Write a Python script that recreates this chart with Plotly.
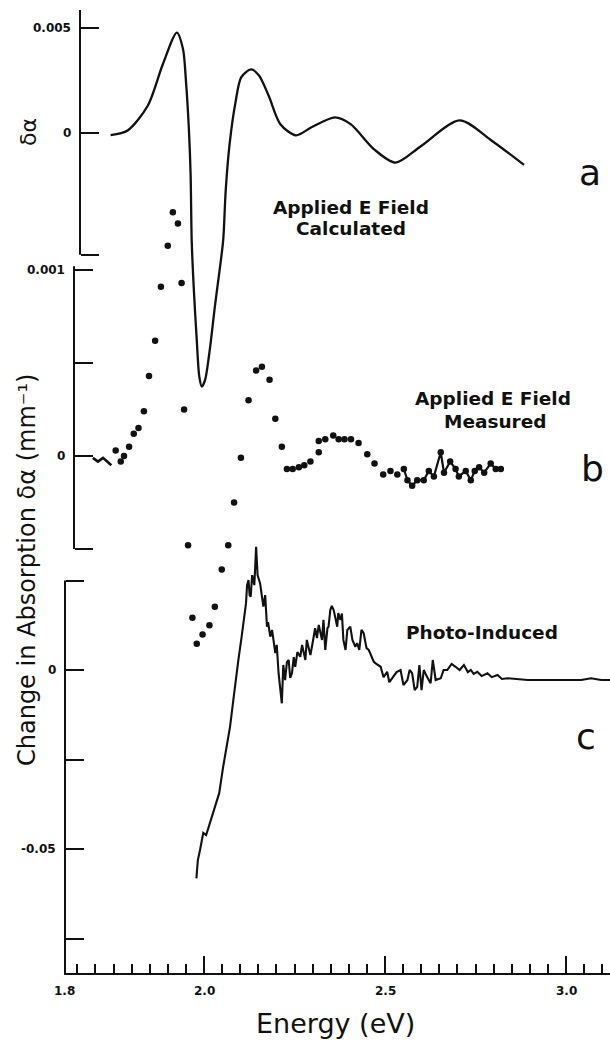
import plotly.graph_objects as go

# ---- (a) calculated electroabsorption spectrum -------------------------------
calc_E = [1.742, 1.789, 1.845, 1.886, 1.925, 1.942, 1.950, 1.958, 1.963, 1.966,
          1.972, 1.980, 1.987, 1.994, 2.003, 2.017, 2.030, 2.042, 2.053, 2.060,
          2.071, 2.087, 2.103, 2.130, 2.152, 2.179, 2.211, 2.254, 2.297, 2.362,
          2.405, 2.470, 2.529, 2.599, 2.706, 2.792, 2.884]
calc_v = [-0.0001, 0.00012, 0.00131, 0.00326, 0.00478, 0.0040, 0.00251, 0.00027, -0.00197, -0.0051,
          -0.00748, -0.00986, -0.0116, -0.01208, -0.01176, -0.01018, -0.00827, -0.00668, -0.0051, -0.00272,
          -0.00048, 0.00146, 0.00266, 0.00303, 0.00274, 0.00176, 0.00042, -0.00011, 0.00027, 0.00074,
          0.00042, -0.00078, -0.00141, -0.00063, 0.0006, -0.00033, -0.00152]

# ---- (b) measured electroabsorption spectrum ---------------------------------
meas_E = [1.693, 1.707, 1.721, 1.744, 1.756, 1.770, 1.779, 1.793, 1.806, 1.819,
          1.834, 1.848, 1.865, 1.881, 1.900, 1.914, 1.928, 1.938, 1.945, 1.956,
          1.968, 1.980, 1.996, 2.015, 2.030, 2.049, 2.067, 2.083, 2.102, 2.123,
          2.144, 2.160, 2.181, 2.197, 2.215, 2.229, 2.245, 2.262, 2.277, 2.294,
          2.317, 2.317, 2.335, 2.357, 2.372, 2.388, 2.406, 2.427, 2.451, 2.471,
          2.495, 2.515, 2.534, 2.552, 2.562, 2.575, 2.589, 2.607, 2.621, 2.635,
          2.654, 2.663, 2.680, 2.695, 2.704, 2.723, 2.737, 2.748, 2.760, 2.774,
          2.792, 2.806, 2.820]
meas_v = [-0.00001, -0.00003, -0.00001, -0.00005, 0.00003, -0.00003, 0.0, 0.00005, 0.00012, 0.00015,
          0.00024, 0.00043, 0.00062, 0.00091, 0.00113, 0.00131, 0.00125, 0.00093, 0.00025, -0.00048,
          -0.00087, -0.00101, -0.00096, -0.00091, -0.00081, -0.00061, -0.00048, -0.00025, -0.00001, 0.00030,
          0.00046, 0.00048, 0.00041, 0.00020, 0.00005, -0.00007, -0.00007, -0.00006, -0.00005, -0.00003,
          0.00008, 0.00002, 0.00009, 0.00011, 0.00009, 0.00009, 0.00009, 0.00007, 0.00001, -0.00004,
          -0.00010, -0.00008, -0.00010, -0.00007, -0.00013, -0.00016, -0.00013, -0.00013, -0.00008, -0.00011,
          0.00002, -0.00009, -0.00003, -0.00007, -0.00011, -0.00008, -0.00013, -0.00008, -0.00006, -0.00009,
          -0.00004, -0.00007, -0.00007]
LEFT_RUN = 4      # densely sampled start, drawn as a joined trace
RIGHT_RUN = 53    # densely sampled tail, drawn as a joined trace

# ---- (c) photo-induced absorption spectrum -----------------------------------
photo_E = [1.979, 1.983, 1.989, 1.998, 2.006, 2.017, 2.026, 2.033, 2.042, 2.053,
           2.063, 2.072, 2.081, 2.089, 2.095, 2.104, 2.111, 2.116, 2.119, 2.123,
           2.126, 2.129, 2.133, 2.139, 2.141, 2.144, 2.148, 2.155, 2.164, 2.169,
           2.174, 2.177, 2.183, 2.188, 2.197, 2.201, 2.206, 2.211, 2.215, 2.219,
           2.224, 2.229, 2.234, 2.238, 2.243, 2.248, 2.252, 2.258, 2.266, 2.271,
           2.280, 2.284, 2.289, 2.294, 2.303, 2.307, 2.312, 2.317, 2.326, 2.330,
           2.335, 2.341, 2.344, 2.349, 2.353, 2.358, 2.363, 2.368, 2.371, 2.377,
           2.381, 2.385, 2.391, 2.396, 2.404, 2.410, 2.418, 2.423, 2.429, 2.435,
           2.441, 2.449, 2.455, 2.463, 2.469, 2.476, 2.488, 2.496, 2.506, 2.512,
           2.524, 2.532, 2.543, 2.551, 2.562, 2.568, 2.575, 2.582, 2.589, 2.595,
           2.601, 2.607, 2.615, 2.626, 2.632, 2.640, 2.654, 2.662, 2.672, 2.684,
           2.695, 2.706, 2.718, 2.729, 2.737, 2.745, 2.755, 2.767, 2.783, 2.795,
           2.811, 2.823, 2.839, 2.866, 2.894, 2.931, 2.968, 3.005, 3.042, 3.069,
           3.097, 3.125]
photo_v = [-0.0582, -0.0531, -0.0503, -0.0455, -0.0461, -0.0427, -0.0399, -0.0377, -0.0344, -0.0270,
           -0.0214, -0.0158, -0.0084, -0.0028, 0.0028, 0.0093, 0.0140, 0.0186, 0.0237, 0.0251,
           0.0209, 0.0205, 0.0265, 0.0237, 0.0279, 0.0344, 0.0265, 0.0242, 0.0177, 0.0209,
           0.0121, 0.0134, 0.0093, 0.0112, 0.0047, 0.0070, -0.0009, -0.0056, -0.0093, 0.0014,
           -0.0028, 0.0022, 0.0028, -0.0022, -0.0009, 0.0036, 0.0009, 0.0050, 0.0037, 0.0070,
           0.0028, 0.0084, 0.0065, 0.0042, 0.0093, 0.0117, 0.0089, 0.0126, 0.0084, 0.0140,
           0.0056, 0.0117, 0.0121, 0.0168, 0.0179, 0.0168, 0.0145, 0.0121, 0.0159, 0.0140,
           0.0158, 0.0084, 0.0056, 0.0112, 0.0121, 0.0084, 0.0065, 0.0075, 0.0056, 0.0112,
           0.0103, 0.0061, 0.0056, 0.0034, 0.0023, 0.0017, 0.0009, -0.0020, -0.0005, -0.0034,
           -0.0019, -0.0006, 0.0000, -0.0042, -0.0028, 0.0000, -0.0009, -0.0056, -0.0047, 0.0014,
           -0.0056, 0.0000, -0.0017, -0.0037, 0.0028, -0.0028, -0.0023, 0.0000, 0.0000, 0.0017,
           0.0009, 0.0000, 0.0014, -0.0006, 0.0000, -0.0011, -0.0005, -0.0017, -0.0009, -0.0020,
           -0.0014, -0.0025, -0.0023, -0.0026, -0.0028, -0.0028, -0.0028, -0.0026, -0.0028, -0.0023,
           -0.0028, -0.0028]

assert len(calc_E) == len(calc_v)
assert len(meas_E) == len(meas_v)
assert len(photo_E) == len(photo_v)

# ---- ticks and tick labels -----------------------------------------------------
x_major = [2.0, 2.5, 3.0]
x_labels = ["1.8", "2.0", "2.5", "3.0"]
a_ticks = [0.005, 0.0, -0.0058]
a_labels = {0.005: "0.005", 0.0: "0"}
b_ticks = [0.001, 0.0005, 0.0, -0.0005]
b_labels = {0.001: "0.001", 0.0: "0"}
c_ticks = [0.025, 0.0, -0.025, -0.05, -0.075]
c_labels = {0.0: "0", -0.05: "-0.05"}

# ---- page geometry -------------------------------------------------------------
W, H = 610, 1046
ML, MR, MT, MB = 64, 0, 0, 73
PW, PH = W - ML - MR, H - MT - MB
PX_PER_EV = 362.0
E_AT_2 = 204  # page x of 2.0 eV
E_LO = 2.0 - (E_AT_2 - ML) / PX_PER_EV
E_HI = 2.0 + (W - MR - E_AT_2) / PX_PER_EV

# fine ticks every 0.05 eV along the energy axis
x_fine = [round(1.65 + 0.05 * i, 2) for i in range(30)]


def xp(px):
    return (px - ML) / PW


def yp(py):
    return 1 - (py - MT) / PH


def yrange(zero_px, px_per_unit):
    return [-(MT + PH - zero_px) / px_per_unit, (zero_px - MT) / px_per_unit]


RA = yrange(133, 21000.0)
RB = yrange(456, 186000.0)
RC = yrange(670, 3580.0)

FONT = "DejaVu Sans"
INK = "#111111"

fig = go.Figure()
fig.add_trace(go.Scatter(x=calc_E, y=calc_v, mode="lines", yaxis="y",
                         line=dict(color=INK, width=2.3, shape="spline", smoothing=0.8)))
fig.add_trace(go.Scatter(x=meas_E[:LEFT_RUN], y=meas_v[:LEFT_RUN], mode="lines", yaxis="y2",
                         line=dict(color=INK, width=2.6)))
fig.add_trace(go.Scatter(x=meas_E[RIGHT_RUN:], y=meas_v[RIGHT_RUN:], mode="lines", yaxis="y2",
                         line=dict(color=INK, width=2.2)))
fig.add_trace(go.Scatter(x=meas_E[LEFT_RUN:], y=meas_v[LEFT_RUN:], mode="markers", yaxis="y2",
                         marker=dict(color=INK, size=6.5)))
fig.add_trace(go.Scatter(x=photo_E, y=photo_v, mode="lines", yaxis="y3",
                         line=dict(color=INK, width=2.1)))

yax_common = dict(ticks="inside", ticklen=18, tickwidth=2, tickcolor=INK, showline=False,
                  showgrid=False, zeroline=False, showticklabels=False, anchor="free",
                  tickmode="array")

fig.update_layout(
    width=W, height=H, margin=dict(l=ML, r=MR, t=MT, b=MB),
    paper_bgcolor="white", plot_bgcolor="white", showlegend=False,
    xaxis=dict(range=[E_LO, E_HI], showline=True, linewidth=2, linecolor=INK,
               ticks="inside", ticklen=9, tickwidth=2, tickcolor=INK,
               tickmode="array", tickvals=x_fine, showticklabels=False,
               minor=dict(tickmode="array", tickvals=x_major, ticks="inside",
                          ticklen=17, tickwidth=2, tickcolor=INK),
               showgrid=False, zeroline=False, anchor="y"),
    yaxis=dict(range=RA, tickvals=a_ticks, position=xp(80), **yax_common),
    yaxis2=dict(range=RB, tickvals=b_ticks, position=xp(74), overlaying="y", **yax_common),
    yaxis3=dict(range=RC, tickvals=c_ticks, position=xp(65), overlaying="y", **yax_common),
)

# axis spines of the three stacked panels
spine = dict(color=INK, width=2)
fig.add_shape(type="line", xref="paper", yref="y", x0=xp(80), x1=xp(80),
              y0=RA[1] - 10 / 21000.0, y1=a_ticks[-1], line=spine)
fig.add_shape(type="line", xref="paper", yref="y2", x0=xp(74), x1=xp(74),
              y0=0.00102, y1=b_ticks[-1], line=spine)
fig.add_shape(type="line", xref="paper", yref="y3", x0=xp(65), x1=xp(65),
              y0=c_ticks[0], y1=RC[0], line=spine)

tick_font = dict(family=FONT, size=12, color=INK, weight="bold")

# value labels beside each panel's spine
for yref, spine_x, labels in (("y", 80, a_labels), ("y2", 74, b_labels), ("y3", 65, c_labels)):
    for val, txt in labels.items():
        fig.add_annotation(text=txt, xref="paper", yref=yref, x=xp(spine_x - 7), y=val,
                           xanchor="right", yanchor="middle", showarrow=False, font=tick_font)

# energy labels under the axis (the first one sits at the axis corner)
for val, txt in zip([E_LO] + x_major, x_labels):
    fig.add_annotation(text=txt, xref="x", yref="paper", x=val, y=yp(991),
                       xanchor="center", yanchor="middle", showarrow=False, font=tick_font)


def label(text, x, y, size, angle=0, weight="normal"):
    fig.add_annotation(text=text, xref="paper", yref="paper", x=xp(x), y=yp(y),
                       xanchor="center", yanchor="middle", showarrow=False,
                       textangle=angle,
                       font=dict(family=FONT, size=size, color=INK, weight=weight))


label("δα", 29, 132, 22, -90)
label("Change in Absorption δα (mm⁻¹)", 27, 570, 24, -90)
label("Applied E Field", 351, 207, 18.5, weight="bold")
label("Calculated", 351, 229, 18.5, weight="bold")
label("Applied E Field", 493, 398, 18.5, weight="bold")
label("Measured", 495, 421, 18.5, weight="bold")
label("Photo-Induced", 482, 632, 18.5, weight="bold")
label("a", 590, 172, 36)
label("b", 592, 468, 36)
label("c", 586, 736, 36)
label("Energy (eV)", 335, 1023, 27)

fig.write_html("out.html")
